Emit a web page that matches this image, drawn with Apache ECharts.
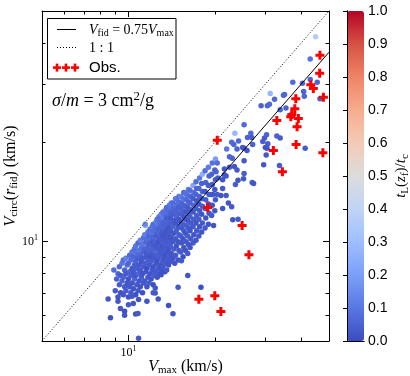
<!DOCTYPE html>
<html>
<head>
<meta charset="utf-8">
<script src="https://cdn.jsdelivr.net/npm/echarts@6/dist/echarts.min.js"></script>
<style>
  html, body { margin: 0; padding: 0; background: #fff; }
  #chart { width: 410px; height: 376px; }
</style>
</head>
<body>
<div id="chart"></div>
<script>
// simulated haloes: V_max (km/s), V_circ(r_fid) (km/s), t_L(z_f)/t_c
const simVmax = [
  9.0, 9.1, 8.9,
  9.2, 9.3, 9.2, 9.3,
  9.4, 9.5, 9.4, 9.5,
  9.6, 9.7, 9.6, 9.7, 9.6,
  9.8, 9.9, 9.8, 9.9, 9.8,
  10.0, 10.1, 10.0, 10.1, 10.0, 10.1,
  10.2, 10.3, 10.2, 10.3, 10.2, 10.3,
  10.4, 10.5, 10.4, 10.5, 10.4, 10.5,
  10.6, 10.7, 10.6, 10.7, 10.6, 10.7, 10.6,
  10.8, 10.9, 10.8, 10.9, 10.8, 10.9, 10.8,
  11.0, 11.1, 11.0, 11.1, 11.0, 11.1, 11.0,
  11.2, 11.3, 11.2, 11.3, 11.2, 11.3, 11.2, 11.3,
  11.4, 11.5, 11.4, 11.5, 11.4, 11.5, 11.4, 11.45,
  11.6, 11.7, 11.6, 11.7, 11.6, 11.7, 11.6, 11.7,
  11.8, 11.9, 11.8, 11.9, 11.8, 11.9, 11.8, 11.9,
  12.0, 12.1, 12.0, 12.1, 12.0, 12.1, 12.0, 12.1,
  12.2, 12.3, 12.2, 12.3, 12.2, 12.3, 12.2, 12.3, 12.2,
  12.4, 12.5, 12.4, 12.5, 12.4, 12.5, 12.4, 12.5,
  12.6, 12.7, 12.6, 12.7, 12.6, 12.7, 12.6, 12.7, 12.6,
  12.8, 12.9, 12.8, 12.9, 12.8, 12.9, 12.8, 12.9, 12.8,
  13.0, 13.1, 13.0, 13.1, 13.0, 13.1, 13.0, 13.1, 13.0,
  13.2, 13.3, 13.2, 13.3, 13.2, 13.3, 13.2, 13.3, 13.2,
  13.4, 13.5, 13.4, 13.5, 13.4, 13.5, 13.4, 13.5, 13.4, 13.5,
  13.6, 13.7, 13.6, 13.7, 13.6, 13.7, 13.6, 13.7, 13.6,
  13.8, 13.9, 13.8, 13.9, 13.8, 13.9, 13.8, 13.9, 13.8, 13.9,
  14.0, 14.1, 14.0, 14.1, 14.0, 14.1, 14.0, 14.1, 14.0, 14.1,
  14.3, 14.4, 14.3, 14.4, 14.3, 14.4, 14.3, 14.4, 14.3,
  14.6, 14.7, 14.6, 14.7, 14.6, 14.7, 14.6, 14.7, 14.6,
  14.9, 15.0, 14.9, 15.0, 14.9, 15.0, 14.9, 15.0, 14.9, 15.0,
  15.2, 15.3, 15.2, 15.3, 15.2, 15.3, 15.2, 15.3, 15.2,
  15.5, 15.6, 15.5, 15.6, 15.5, 15.6, 15.5, 15.6, 15.5, 15.6,
  15.8, 15.9, 15.8, 15.9, 15.8, 15.9, 15.8, 15.9, 15.8,
  16.1, 16.2, 16.1, 16.2, 16.1, 16.2, 16.1, 16.2, 16.1, 16.2,
  16.4, 16.5, 16.4, 16.5, 16.4, 16.5, 16.4, 16.5, 16.4,
  16.8, 16.9, 16.8, 16.9, 16.8, 16.9, 16.8, 16.9, 16.8,
  17.2, 17.3, 17.2, 17.3, 17.2, 17.3, 17.2, 17.3, 17.2,
  17.6, 17.7, 17.6, 17.7, 17.6, 17.7, 17.6, 17.7,
  18.0, 18.1, 18.0, 18.1, 18.0, 18.1, 18.0, 18.1,
  18.5, 18.6, 18.5, 18.6, 18.5, 18.6, 18.5,
  19.0, 19.1, 19.0, 19.1, 19.0, 19.1, 19.0,
  19.5, 19.6, 19.5, 19.6, 19.5, 19.6,
  20.0, 20.1, 20.0, 20.1, 20.0, 20.1,
  21.9, 21.3, 21.3, 21.0, 20.4, 19.7, 21.9, 22.3, 22.9, 23.1, 24.1, 21.3,
  27.0, 27.3, 25.2, 24.1, 23.6, 19.8,
  20.4, 20.2, 21.6, 22.5, 23.4, 23.9, 25.3, 21.6, 20.5, 22.5,
  23.0, 25.3, 22.0, 23.9, 25.0, 25.3, 25.9, 22.9, 23.3, 24.2,
  29.6, 33.6, 30.2, 27.1, 29.4, 29.8, 30.3, 30.6, 30.0, 30.4,
  32.9, 33.8, 26.7, 26.0, 26.9, 25.3, 23.5, 41.3,
  29.0, 31.0, 32.3, 33.8, 35.0, 41.0, 46.5, 37.4, 40.4,
  43.0, 45.5, 40.8, 34.7, 31.2, 35.4, 30.5, 43.0, 44.9,
  8.5, 8.66, 9.2, 9.38, 9.7, 9.7, 10.0, 10.4, 10.6, 10.8,
  11.6, 10.85, 12.7, 13.8, 14.3, 14.9, 16.1, 17.9, 12.4, 12.2,
  12.4, 10.3, 10.85, 13.0, 13.6, 14.5, 15.3, 11.45
];
const simVcirc = [
  7.1, 7.7, 8.2,
  6.8, 7.4, 8.0, 8.4,
  7.0, 7.6, 7.9, 8.6,
  6.9, 7.3, 7.8, 8.2, 8.8,
  7.1, 7.5, 8.0, 8.5, 8.9,
  6.8, 7.3, 7.7, 8.1, 8.6, 9.1,
  7.0, 7.5, 7.9, 8.3, 8.8, 9.3,
  7.2, 7.7, 8.1, 8.5, 9.0, 9.5,
  6.9, 7.4, 7.9, 8.3, 8.7, 9.2, 9.7,
  7.1, 7.6, 8.0, 8.5, 8.9, 9.4, 9.9,
  7.3, 7.8, 8.2, 8.7, 9.1, 9.6, 10.1,
  7.0, 7.5, 8.0, 8.4, 8.9, 9.3, 9.8, 10.3,
  7.6, 8.1, 8.6, 9.0, 9.5, 10.0, 10.5, 11.2,
  7.3, 7.8, 8.3, 8.8, 9.2, 9.7, 10.2, 10.7,
  7.5, 8.0, 8.5, 9.0, 9.4, 9.9, 10.4, 10.9,
  7.7, 8.2, 8.7, 9.2, 9.6, 10.1, 10.6, 11.1,
  7.4, 7.9, 8.4, 8.9, 9.4, 9.8, 10.3, 10.8, 11.3,
  8.1, 8.6, 9.1, 9.6, 10.0, 10.5, 11.0, 11.5,
  7.8, 8.3, 8.8, 9.3, 9.8, 10.3, 10.7, 11.2, 11.7,
  8.0, 8.5, 9.0, 9.5, 10.0, 10.5, 11.0, 11.5, 11.9,
  8.2, 8.7, 9.2, 9.7, 10.2, 10.7, 11.2, 11.7, 12.1,
  8.4, 8.9, 9.4, 9.9, 10.4, 10.9, 11.4, 11.9, 12.3,
  8.1, 8.6, 9.1, 9.6, 10.1, 10.6, 11.1, 11.6, 12.1, 12.5,
  8.8, 9.3, 9.8, 10.3, 10.8, 11.3, 11.8, 12.3, 12.7,
  8.5, 9.0, 9.5, 10.0, 10.5, 11.0, 11.5, 12.0, 12.5, 12.9,
  8.7, 9.2, 9.7, 10.3, 10.8, 11.3, 11.8, 12.3, 12.8, 13.1,
  8.9, 9.5, 10.0, 10.6, 11.1, 11.6, 12.1, 12.6, 13.1,
  9.1, 9.7, 10.2, 10.8, 11.4, 11.9, 12.4, 12.9, 13.5,
  8.8, 9.4, 10.0, 10.5, 11.1, 11.7, 12.2, 12.7, 13.2, 13.7,
  9.3, 9.9, 10.4, 11.0, 11.5, 12.1, 12.6, 13.1, 13.7,
  9.0, 9.6, 10.2, 10.8, 11.3, 11.9, 12.4, 12.9, 13.5, 14.1,
  9.4, 10.0, 10.6, 11.2, 11.7, 12.3, 12.8, 13.4, 14.0,
  9.2, 9.8, 10.4, 11.0, 11.6, 12.1, 12.7, 13.2, 13.8, 14.4,
  9.6, 10.2, 10.8, 11.4, 11.9, 12.5, 13.1, 13.7, 14.3,
  9.9, 10.5, 11.1, 11.7, 12.3, 12.9, 13.5, 14.1, 14.8,
  10.1, 10.8, 11.4, 12.0, 12.6, 13.3, 13.9, 14.5, 15.2,
  10.4, 11.1, 11.7, 12.4, 13.0, 13.7, 14.5, 15.6,
  10.7, 11.4, 12.1, 12.8, 13.5, 14.2, 15.0, 16.0,
  11.0, 11.8, 12.6, 13.4, 14.2, 15.1, 16.4,
  11.3, 12.2, 13.0, 13.9, 14.8, 15.8, 16.8,
  12.0, 12.9, 13.9, 14.9, 16.0, 17.3,
  12.4, 13.4, 14.4, 15.4, 16.5, 17.8,
  15.8, 15.4, 14.5, 13.8, 13.9, 13.9, 13.8, 13.1, 12.75, 11.66, 11.7, 12.6,
  15.1, 15.0, 15.5, 15.35, 14.9, 11.2,
  17.3, 16.3, 16.6, 16.8, 16.9, 16.5, 16.1, 15.95, 15.6, 18.1,
  17.9, 17.6, 19.1, 19.1, 19.3, 19.2, 18.9, 20.0, 19.7, 20.2,
  17.1, 17.0, 18.3, 19.7, 20.1, 20.6, 21.1, 19.8, 19.3, 19.2,
  20.9, 20.6, 21.3, 20.7, 20.7, 22.6, 21.3, 19.2,
  25.8, 26.1, 27.0, 25.1, 27.9, 27.6, 27.1, 30.4, 30.2,
  31.0, 30.4, 28.5, 27.8, 28.1, 25.4, 25.8, 35.8, 41.8,
  6.7, 5.88, 6.6, 6.27, 6.15, 5.98, 6.44, 6.5, 6.04, 6.06,
  6.6, 5.1, 6.7, 6.4, 6.05, 7.27, 7.89, 7.27, 6.99, 7.0,
  7.24, 6.83, 6.68, 7.94, 8.2, 8.6, 8.76, 11.3
];
const simT = [
  .03, .05, .08,
  .02, .04, .06, .06,
  .01, .05, .03, .10,
  .02, .03, .05, .06, .08,
  .04, .02, .03, .08, .12,
  .01, .03, .02, .05, .06, .07,
  .03, .02, .04, .03, .08, .09,
  .02, .05, .03, .04, .06, .08,
  .01, .03, .02, .04, .05, .08, .10,
  .03, .02, .05, .03, .04, .10, .07,
  .02, .04, .03, .02, .06, .08, .12,
  .01, .03, .02, .04, .03, .05, .10, .08,
  .03, .02, .04, .03, .05, .06, .12, .24,
  .02, .03, .01, .04, .03, .05, .08, .09,
  .04, .02, .03, .02, .05, .04, .06, .07,
  .02, .03, .04, .02, .05, .03, .09, .10,
  .01, .04, .02, .03, .05, .03, .06, .08, .08,
  .03, .02, .04, .03, .05, .04, .07, .11,
  .02, .03, .02, .05, .03, .04, .06, .10, .09,
  .03, .02, .04, .03, .02, .05, .05, .08, .07,
  .02, .04, .03, .02, .04, .03, .06, .09, .12,
  .03, .02, .03, .04, .02, .05, .05, .11, .08,
  .01, .03, .02, .04, .03, .02, .05, .06, .08, .10,
  .03, .02, .04, .03, .02, .05, .04, .08, .07,
  .02, .03, .02, .04, .03, .02, .05, .06, .07, .09,
  .03, .02, .04, .02, .03, .04, .03, .05, .09, .11,
  .02, .04, .03, .02, .05, .03, .04, .06, .07,
  .03, .02, .03, .04, .02, .05, .05, .08, .10,
  .02, .03, .02, .04, .03, .02, .05, .04, .08, .08,
  .03, .02, .04, .03, .02, .04, .05, .06, .12,
  .01, .03, .02, .03, .04, .02, .05, .05, .09, .07,
  .02, .03, .02, .04, .03, .02, .05, .07, .09,
  .03, .02, .04, .03, .02, .04, .03, .05, .08, .10,
  .02, .03, .02, .03, .04, .03, .05, .06, .08,
  .03, .02, .03, .04, .02, .05, .04, .08, .22,
  .02, .03, .02, .04, .03, .02, .05, .06, .08,
  .03, .02, .04, .03, .02, .05, .06, .10,
  .02, .03, .02, .04, .03, .05, .05, .25,
  .03, .02, .03, .04, .02, .05, .08,
  .02, .03, .02, .03, .04, .05, .11,
  .03, .02, .04, .03, .05, .09,
  .02, .03, .02, .04, .05, .20,
  .03, .02, .03, .02, .04, .02, .03, .02, .03, .02, .03, .02,
  .04, .02, .03, .02, .04, .02,
  .08, .05, .03, .04, .02, .03, .04, .02, .03, .06,
  .05, .03, .10, .05, .04, .03, .02, .08, .06, .06,
  .03, .04, .03, .05, .04, .03, .05, .04, .03, .02,
  .05, .04, .06, .05, .04, .07, .28, .04,
  .05, .07, .06, .05, .07, .06, .05, .07, .06,
  .07, .06, .05, .06, .28, .05, .06, .09, .36,
  .02, .01, .03, .02, .01, .02, .03, .02, .01, .03,
  .02, .03, .02, .01, .02, .03, .02, .01, .02, .03,
  .02, .03, .02, .01, .03, .02, .03, .15
];

// observed galaxies
const obsVmax = [46.5, 46.4, 38.3, 43.2, 44.1, 47.8, 38.0, 37.1, 36.8, 39.1, 32.9, 38.7,
  20.4, 38.4, 47.6, 32.0, 34.4, 18.9, 24.9, 26.3, 20.0, 21.0, 17.6];
const obsVcirc = [36.7, 32.4, 27.1, 29.9, 29.1, 27.4, 25.3, 24.3, 23.9, 23.6, 23.3, 22.3,
  20.3, 19.7, 18.6, 18.9, 16.3, 12.7, 11.2, 9.13, 6.86, 6.14, 6.69];

// reference lines
const fidLineVmax = [14.9, 50];
const fidLineVcirc = [11.2, 37.5];
const oneToOne = [5, 50];

// axis ticks
const majorTicks = [10];
const minorTicks = [6, 7, 8, 9, 20, 30, 40];

const coolwarm = ['#3b4cc0', '#5977e3', '#7b9ff9', '#9ebeff', '#c0d4f5', '#dddcdc',
  '#f2cbb7', '#f7ac8e', '#ee8468', '#d65244', '#b40426'];

const serif = 'Liberation Serif';
const plusPath = 'path://M3,0H6V3H9V6H6V9H3V6H0V3H3Z';

const tickRich = {
  b: { fontFamily: serif, fontSize: 12, color: '#000' },
  sup: { fontFamily: serif, fontSize: 8, color: '#000', padding: [0, 0, 7, 0] }
};
const mathRich = (size) => ({
  i: { fontFamily: serif, fontStyle: 'italic', fontSize: size, color: '#000' },
  r: { fontFamily: serif, fontSize: size, color: '#000' },
  sub: { fontFamily: serif, fontSize: Math.round(size * 0.7), color: '#000', padding: [Math.round(size * 0.5), 0, 0, 0] },
  sup: { fontFamily: serif, fontSize: Math.round(size * 0.7), color: '#000', padding: [0, 0, Math.round(size * 0.5), 0] }
});

const mainAxis = (pos, major, label) => ({
  type: 'log', gridIndex: 0, min: 5, max: 50, position: pos, z: 5,
  axisLine: { show: major, onZero: false, lineStyle: { color: '#000', width: 1 } },
  axisTick: {
    show: true, inside: true, length: major ? 6 : 3.5,
    customValues: major ? majorTicks : minorTicks,
    lineStyle: { color: '#000', width: 1 }
  },
  axisLabel: {
    show: label, customValues: majorTicks, margin: 4,
    formatter: () => '{b|10}{sup|1}', rich: tickRich
  },
  splitLine: { show: false }
});

const cbarFrame = (pos) => ({
  type: 'value', gridIndex: 1, min: 0, max: 1, position: pos, z: 10,
  axisLine: { show: true, lineStyle: { color: '#000' } }, axisTick: { show: false },
  axisLabel: { show: false }, splitLine: { show: false }
});

const xAxes = [
  Object.assign(mainAxis('bottom', true, true), {
    name: '{i|V}{sub|max}{r| (km/s)}', nameLocation: 'middle', nameGap: 16,
    nameMoveOverlap: false, nameTextStyle: { rich: mathRich(16) }
  }),
  mainAxis('bottom', false, false),
  mainAxis('top', true, false),
  mainAxis('top', false, false),
  cbarFrame('bottom'),
  cbarFrame('top')
];

const yAxes = [
  Object.assign(mainAxis('left', true, true), {
    name: '{i|V}{sub|circ}{r|(}{i|r}{sub|fid}{r|) (km/s)}', nameLocation: 'middle', nameGap: 22,
    nameMoveOverlap: false, nameRotate: 90, nameTextStyle: { rich: mathRich(16) }
  }),
  mainAxis('left', false, false),
  mainAxis('right', true, false),
  mainAxis('right', false, false),
  cbarFrame('left'),
  Object.assign(cbarFrame('right'), {
    interval: 0.1,
    axisTick: { show: true, inside: true, length: 4, lineStyle: { color: '#000' } },
    axisLabel: {
      show: true, margin: 4, color: '#000', fontFamily: 'Liberation Sans', fontSize: 14,
      formatter: (v) => v.toFixed(1)
    },
    name: '{i|t}{sub|L}{r|(}{i|z}{sub|f}{r|)/}{i|t}{sub|c}', nameLocation: 'middle', nameGap: 28,
    nameMoveOverlap: false, nameRotate: 90, nameTextStyle: { rich: mathRich(15) }
  })
];

const simData = simVmax.map((v, i) => [v, simVcirc[i], simT[i]]);
const obsData = obsVmax.map((v, i) => [v, obsVcirc[i]]);

const legendRich = mathRich(14);
const plusMarks = [];
[57, 66, 75].forEach(cx => {
  plusMarks.push({ type: 'rect', z: 20, shape: { x: cx - 4, y: 66.3, width: 8, height: 2.6 }, style: { fill: '#ff0000' } });
  plusMarks.push({ type: 'rect', z: 20, shape: { x: cx - 1.3, y: 63.6, width: 2.6, height: 8 }, style: { fill: '#ff0000' } });
});

const chart = echarts.init(document.getElementById('chart'), null, { renderer: 'canvas' });
chart.setOption({
  backgroundColor: '#fff',
  animation: false,
  grid: [
    { left: 42, top: 11, width: 287, height: 330, outerBoundsMode: 'none', containLabel: false },
    { left: 347, top: 11, width: 17, height: 330, outerBoundsMode: 'none', containLabel: false }
  ],
  xAxis: xAxes,
  yAxis: yAxes,
  visualMap: {
    type: 'continuous', min: 0, max: 1, dimension: 2, seriesIndex: 0,
    calculable: false, hoverLink: false, realtime: false,
    left: 347, top: 11, itemWidth: 17, itemHeight: 330, padding: 0,
    text: null, showLabel: false,
    inRange: { color: coolwarm }
  },
  graphic: [
    { type: 'rect', z: 20, shape: { x: 47.5, y: 18.5, width: 128.5, height: 60.5 },
      style: { fill: '#fff', stroke: '#000', lineWidth: 1 } },
    { type: 'line', z: 20, shape: { x1: 57, y1: 29.5, x2: 76, y2: 29.5 },
      style: { stroke: '#000', lineWidth: 1 } },
    { type: 'text', z: 20, x: 89, y: 30, style: {
        text: '{i|V}{sub|fid}{r| = 0.75}{i|V}{sub|max}', rich: legendRich, verticalAlign: 'middle' } },
    { type: 'line', z: 20, shape: { x1: 57, y1: 47.5, x2: 76, y2: 47.5 },
      style: { stroke: '#000', lineWidth: 1, lineDash: [1, 2] } },
    { type: 'text', z: 20, x: 89, y: 48, style: {
        text: '{r|1 : 1}', rich: legendRich, verticalAlign: 'middle' } },
    ...plusMarks,
    { type: 'text', z: 20, x: 89, y: 68, style: {
        text: 'Obs.', fontFamily: 'Liberation Sans', fontSize: 15, fill: '#000', verticalAlign: 'middle' } },
    { type: 'text', z: 20, x: 52, y: 101, style: {
        text: '{i|σ}{r|/}{i|m}{r| = 3 cm}{sup|2}{r|/g}', rich: mathRich(18), verticalAlign: 'middle' } }
  ],
  series: [
    {
      type: 'scatter', name: 'haloes', xAxisIndex: 0, yAxisIndex: 0, z: 2,
      symbol: 'circle', symbolSize: 5.5, data: simData,
      itemStyle: { opacity: 1 }
    },
    {
      type: 'line', name: 'fid', xAxisIndex: 0, yAxisIndex: 0, z: 3,
      data: fidLineVmax.map((v, i) => [v, fidLineVcirc[i]]),
      symbol: 'none', lineStyle: { color: '#000', width: 1 }
    },
    {
      type: 'line', name: 'one', xAxisIndex: 0, yAxisIndex: 0, z: 3,
      data: oneToOne.map(v => [v, v]),
      symbol: 'none', lineStyle: { color: '#000', width: 1, type: [1, 2] }
    },
    {
      type: 'scatter', name: 'Obs.', xAxisIndex: 0, yAxisIndex: 0, z: 4,
      symbol: plusPath, symbolSize: 9, data: obsData,
      itemStyle: { color: '#ff0000', opacity: 1 }
    }
  ]
});
</script>
</body>
</html>
